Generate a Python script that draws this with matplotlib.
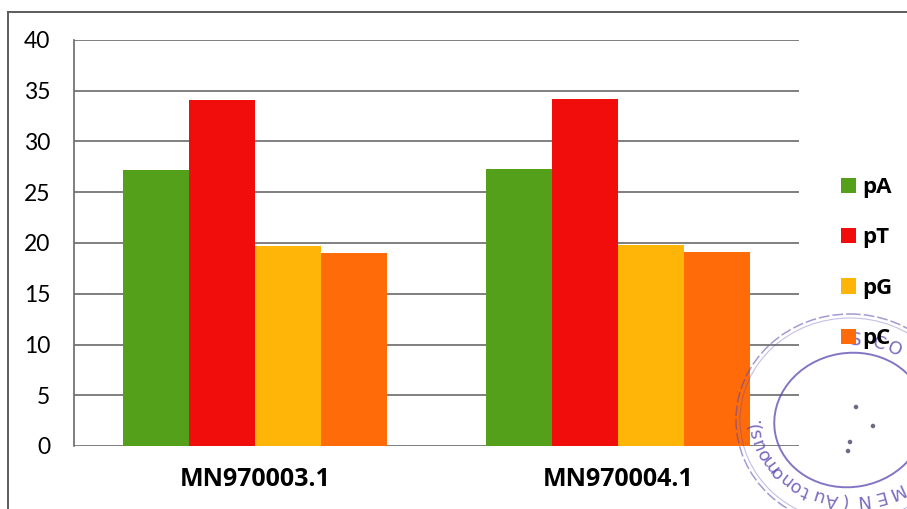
import numpy as np
import matplotlib
matplotlib.use("Agg")
import matplotlib.pyplot as plt
from matplotlib.patches import Ellipse, Circle, Patch
from matplotlib.lines import Line2D

# Nucleotide composition (%) of the two genome sequences
accessions = ["MN970003.1", "MN970004.1"]
bases = ["pA", "pT", "pG", "pC"]
pA = [27.2, 27.3]
pT = [34.1, 34.2]
pG = [19.7, 19.8]
pC = [19.0, 19.1]
yticks = [0, 5, 10, 15, 20, 25, 30, 35, 40]

colors = ["#55A01A", "#F20D0D", "#FFB508", "#FF6B08"]
series = [pA, pT, pG, pC]

W, H = 907, 509
fig = plt.figure(figsize=(W / 100, H / 100), dpi=100)
fig.patch.set_facecolor("white")

ax = fig.add_axes([74 / W, 1 - 446 / H, (799 - 74) / W, (446 - 40) / H])
x = np.arange(len(accessions))
bw = 0.182
for i, (vals, col) in enumerate(zip(series, colors)):
    ax.bar(x + (i - 1.5) * bw, vals, width=bw, color=col, zorder=3,
           linewidth=0)

ax.set_xlim(-0.5, len(accessions) - 0.5)
ax.set_ylim(0, 40)
ax.set_yticks(yticks)
ax.set_yticklabels([str(v) for v in yticks], fontsize=16.5, family="Lato")
ax.set_xticks(x)
ax.set_xticklabels(accessions, fontsize=18, family="Open Sans",
                   fontweight="bold")
ax.tick_params(axis="y", length=0, pad=17)
ax.tick_params(axis="x", length=0, pad=15)
ax.yaxis.grid(True, color="#6a6a6a", linewidth=1.2, zorder=0)
for s in ["top", "right", "bottom"]:
    ax.spines[s].set_visible(False)
ax.spines["left"].set_color("#6a6a6a")
ax.spines["left"].set_linewidth(1.2)

handles = [Patch(facecolor=c, edgecolor="none") for c in colors]
leg = fig.legend(handles, bases, loc="center left",
                 bbox_to_anchor=(841 / W, 1 - 263 / H), frameon=False,
                 borderpad=0, borderaxespad=0,
                 prop={"family": "Open Sans", "weight": "bold", "size": 16},
                 handlelength=0.68, handleheight=0.68, handletextpad=0.28,
                 labelspacing=1.32)

# page overlay in pixel coordinates: frame and stamp
ov = fig.add_axes([0, 0, 1, 1], zorder=5)
ov.set_xlim(0, W)
ov.set_ylim(H, 0)
ov.axis("off")
ov.patch.set_alpha(0)
ov.add_line(Line2D([8, 8], [12, H], color="#5c5c5c", lw=1.4))
ov.add_line(Line2D([8, W], [12, 12], color="#5c5c5c", lw=1.4))

ink = "#5b46b0"
cx, cy = 850, 420
ov.add_patch(Ellipse((cx, cy), 152, 134, angle=-10, fill=False,
                     edgecolor=ink, lw=1.4, alpha=0.75))
ov.add_patch(Ellipse((cx, cy), 228, 212, fill=False, edgecolor=ink,
                     lw=1.1, alpha=0.55, linestyle=(0, (7, 2))))
ov.add_patch(Ellipse((cx, cy), 220, 204, fill=False, edgecolor=ink,
                     lw=0.8, alpha=0.35))

# ring lettering, running clockwise with letter tops facing outward
ring = "S COLLEGE FOR WOMEN (Autonomous)."
rx, ry = 95, 80
t = 92.0
for ch in ring:
    if ch == " ":
        step = 4.0
    elif ch in "().":
        step = 4.0
    elif ch.islower():
        step = 7.5
    else:
        step = 10.5
    t -= step / 2
    a = np.deg2rad(t)
    px = cx + rx * np.cos(a)
    py = cy - ry * np.sin(a)
    normal = np.rad2deg(np.arctan2(np.sin(a) / ry, np.cos(a) / rx))
    if ch != " " and 8 < px < W - 9 and py < H - 7:
        ov.text(px, py, ch, rotation=normal - 90, color=ink, alpha=0.8,
                fontsize=13, family="DejaVu Sans", ha="center",
                va="center", rotation_mode="anchor")
    t -= step / 2

for dx, dy in [(6, -13), (23, 6), (0, 22), (-2, 31)]:
    ov.add_patch(Circle((cx + dx, cy + dy), 1.6, color="#444466",
                        alpha=0.7))

fig.savefig("out.png", dpi=100, facecolor="white")
